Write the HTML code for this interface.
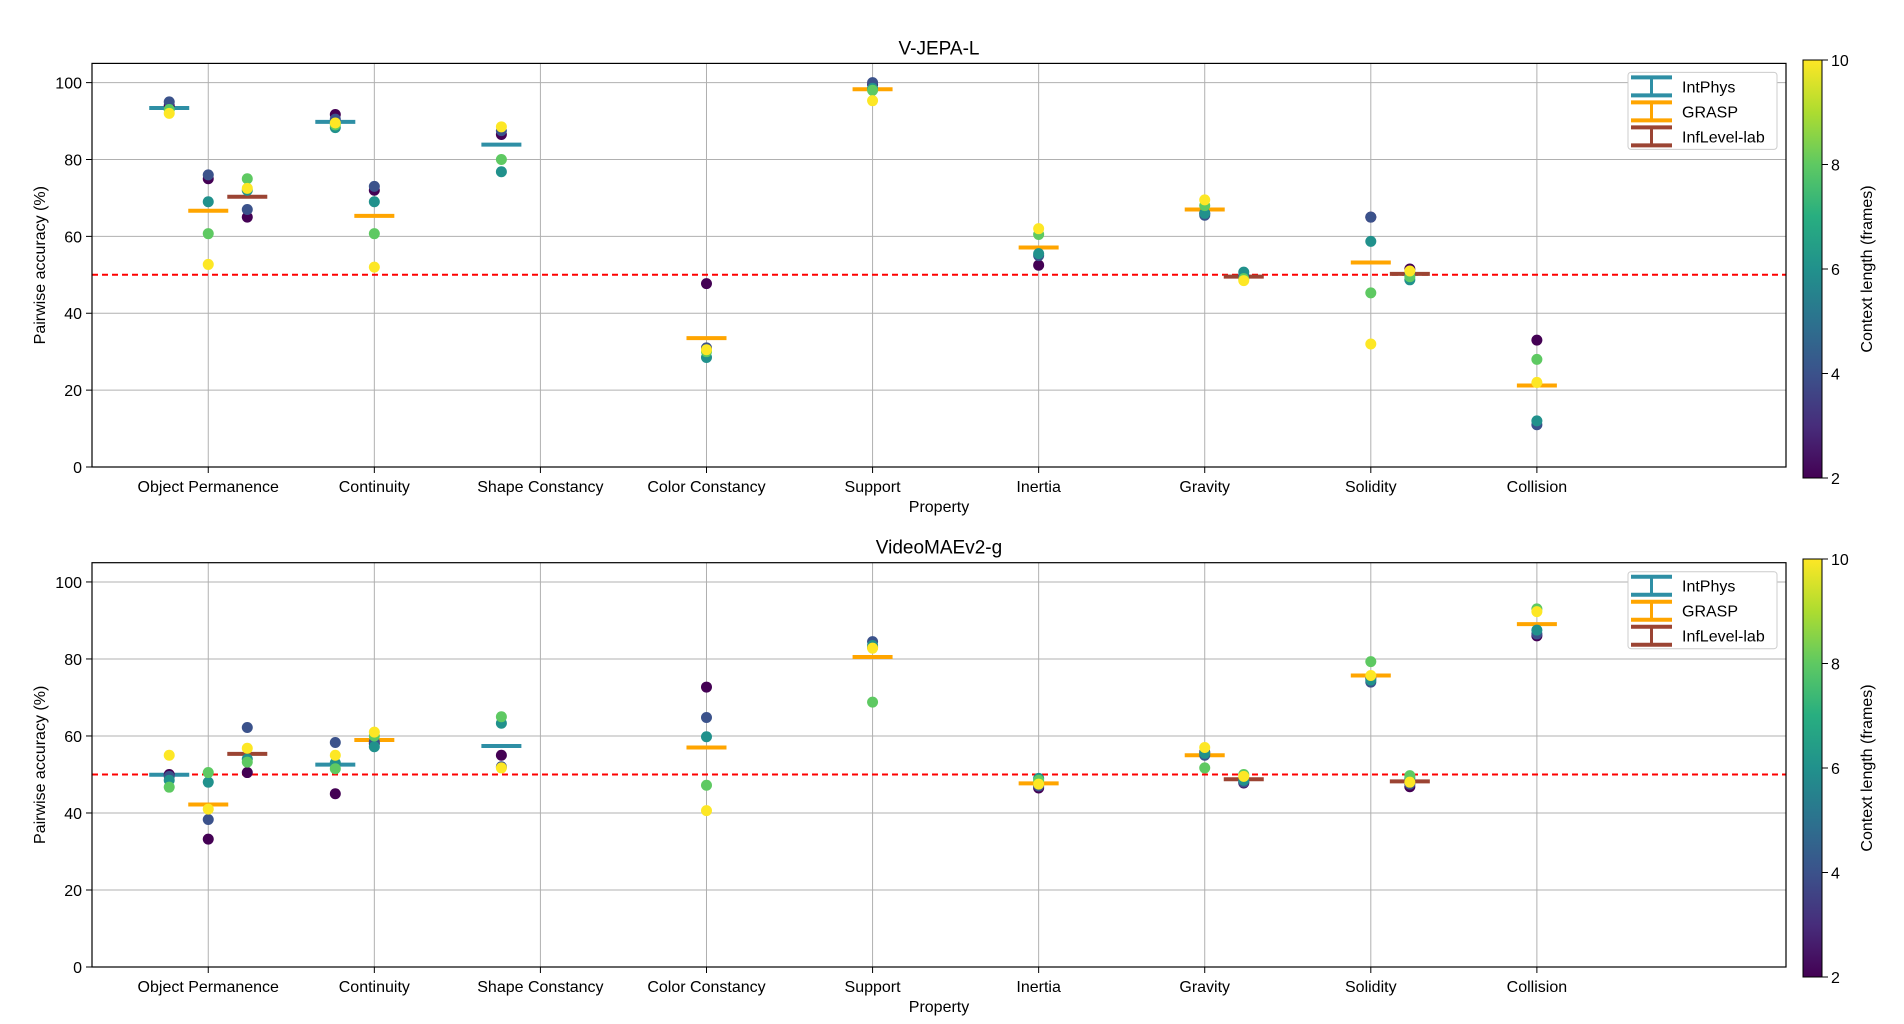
<!DOCTYPE html>
<html><head><meta charset="utf-8"><style>
html,body{margin:0;padding:0;background:#fff;}
svg{display:block;font-family:"Liberation Sans",Arial,sans-serif;}
</style></head><body>
<svg id="fig" width="1904" height="1024" viewBox="0 0 1904 1024" xmlns="http://www.w3.org/2000/svg">
<defs>
<linearGradient id="vir" x1="0" y1="1" x2="0" y2="0">
<stop offset="0" stop-color="#440154"/><stop offset="0.125" stop-color="#472d7b"/><stop offset="0.25" stop-color="#3b528b"/><stop offset="0.375" stop-color="#2c728e"/><stop offset="0.5" stop-color="#21918c"/><stop offset="0.625" stop-color="#28ae80"/><stop offset="0.75" stop-color="#5ec962"/><stop offset="0.875" stop-color="#addc30"/><stop offset="1" stop-color="#fde725"/>
</linearGradient>
</defs>
</svg>
<script>
const properties = ['Object Permanence','Continuity','Shape Constancy','Color Constancy','Support','Inertia','Gravity','Solidity','Collision'];
const datasets = ['IntPhys','GRASP','InfLevel-lab'];
const datasetColors = ['#2e8fa5','#ffa500','#9b4433'];
const datasetOffsets = [-0.235, 0, 0.235];
const contextLengths = [2,4,6,8,10];
const yTicks = [0,20,40,60,80,100];
const cbTicks = [2,4,6,8,10];
// entries: [propertyIndex, datasetIndex], values per context length 2,4,6,8,10
const vjepaKeys = [[0,0],[0,1],[0,2],[1,0],[1,1],[2,0],[3,1],[4,1],[5,1],[6,1],[6,2],[7,1],[7,2],[8,1]];
const vjepaValues = [
 [94,95,93,93,92],[75,76,69,60.7,52.7],[65,67,72,75,72.5],
 [91.7,90.5,88.3,89,89.5],[72,73,69,60.7,52],
 [86.5,87.5,76.8,80,88.5],[47.7,31,28.5,30,30.5],
 [99.5,100,98.5,98,95.3],[52.5,55,55.5,60.5,62],
 [66,65.5,66,68,69.5],[49.5,50,50.7,49,48.5],
 [65,65,58.7,45.3,32],[51.5,50.5,48.7,49.5,51],
 [33,11,12,28,22]
];
const videomaeKeys = [[0,0],[0,1],[0,2],[1,0],[1,1],[2,0],[3,1],[4,1],[5,1],[6,1],[6,2],[7,1],[7,2],[8,1]];
const videomaeValues = [
 [50,49.5,48.5,46.7,55],[33.2,38.3,48,50.5,41],[50.5,62.2,54,53.2,56.8],
 [45,58.3,53,51.5,55],[58,58.5,57.2,60,61],
 [55,52,63.3,65,51.7],[72.7,64.8,59.8,47.2,40.6],
 [83,84.5,83.5,68.8,82.8],[46.5,47,49,48.5,47.5],
 [55.8,55,55.5,51.7,57],[47.8,48,48.5,50,49.5],
 [75,74,74.5,79.3,75.7],[46.8,47.5,49,49.7,48],
 [86,86.5,87.5,93,92.3]
];
const chanceLevel = 50;

const NS='http://www.w3.org/2000/svg';
const svg=document.getElementById('fig');
function mk(tag,attrs,parent){const e=document.createElementNS(NS,tag);for(const k in attrs)e.setAttribute(k,attrs[k]);(parent||svg).appendChild(e);return e;}
function vir(v){const stops=['#440154','#472d7b','#3b528b','#2c728e','#21918c','#28ae80','#5ec962','#addc30','#fde725'];const t=(v-2)/8;return stops[Math.round(t*8)];}

function panel(title,keys,values,top,bottom,cbTop,cbBot,name){
 const L=92,R=1786;
 const g=mk('g',{});
 
 
 const xS=i=>L+(i+0.7)/(10.2)*(R-L);
 const yS=v=>bottom-v/105*(bottom-top);
 // grid
 yTicks.forEach(t=>{
  const l=mk('line',{x1:L,x2:R,y1:yS(t),y2:yS(t),stroke:'#b0b0b0','stroke-width':1},g);
  
  
  mk('line',{x1:L-6,x2:L,y1:yS(t),y2:yS(t),stroke:'#000'},g);
  const tx=mk('text',{x:L-10,y:yS(t)+6,'text-anchor':'end','font-size':16},g);tx.textContent=t;
  
  
 });
 properties.forEach((p,i)=>{
  const l=mk('line',{x1:xS(i),x2:xS(i),y1:top,y2:bottom,stroke:'#b0b0b0','stroke-width':1},g);
  
  
  mk('line',{x1:xS(i),x2:xS(i),y1:bottom,y2:bottom+6,stroke:'#000'},g);
  const tx=mk('text',{x:xS(i),y:bottom+25,'text-anchor':'middle','font-size':16},g);tx.textContent=p;
  
  
 });
 // chance line
 const cl=mk('line',{x1:L,x2:R,y1:yS(chanceLevel),y2:yS(chanceLevel),stroke:'#ff0000','stroke-width':2,'stroke-dasharray':'6,4'},g);
 
 
 // data
 keys.forEach((k,j)=>{
  const cx=xS(k[0]+datasetOffsets[k[1]]);
  const vals=values[j];
  const mean=vals.reduce((a,b)=>a+b,0)/vals.length;
  const bar=mk('line',{x1:cx-20,x2:cx+20,y1:yS(mean),y2:yS(mean),stroke:datasetColors[k[1]],'stroke-width':4},g);
  
  
  vals.forEach((v,c)=>{
   const pt=mk('circle',{cx:cx,cy:yS(v),r:5.5,fill:vir(contextLengths[c])},g);
   
   
  });
 });
 mk('rect',{x:L,y:top,width:R-L,height:bottom-top,fill:'none',stroke:'#000','stroke-width':1.2},g);
 const tt=mk('text',{x:(L+R)/2,y:top-9,'text-anchor':'middle','font-size':19},g);tt.textContent=title;
 
 
 const xl=mk('text',{x:(L+R)/2,y:bottom+45,'text-anchor':'middle','font-size':16},g);xl.textContent='Property';
 
 
 const ym=(top+bottom)/2;
 const yl=mk('text',{x:45,y:ym,'text-anchor':'middle','font-size':16,transform:`rotate(-90 45 ${ym})`},g);yl.textContent='Pairwise accuracy (%)';
 
 
 // legend
 const lg=mk('g',{},g);
 
 
 mk('rect',{x:1628,y:top+9,width:149,height:77,rx:3,fill:'#fff',stroke:'#ccc','stroke-width':1},lg);
 datasets.forEach((d,i)=>{
  const yy=top+23+i*25;const c=datasetColors[i];
  mk('line',{x1:1631,x2:1672,y1:yy-9,y2:yy-9,stroke:c,'stroke-width':4},lg);
  mk('line',{x1:1631,x2:1672,y1:yy+9,y2:yy+9,stroke:c,'stroke-width':4},lg);
  mk('line',{x1:1651.5,x2:1651.5,y1:yy-9,y2:yy+9,stroke:c,'stroke-width':3},lg);
  const t=mk('text',{x:1682,y:yy+6,'font-size':16},lg);t.textContent=d;
  
  
 });
 // colorbar
 const cb=mk('g',{},g);
 
 
 mk('rect',{x:1803,y:cbTop,width:19,height:cbBot-cbTop,fill:'url(#vir)',stroke:'#000','stroke-width':1},cb);
 cbTicks.forEach(t=>{
  const yy=cbBot-(t-2)/8*(cbBot-cbTop);
  mk('line',{x1:1822,x2:1828,y1:yy,y2:yy,stroke:'#000'},cb);
  const tx=mk('text',{x:1831,y:yy+6,'font-size':16},cb);tx.textContent=t;
 });
 const cm=(cbTop+cbBot)/2;
 const ct=mk('text',{x:1872,y:cm,'text-anchor':'middle','font-size':16,transform:`rotate(-90 1872 ${cm})`},cb);ct.textContent='Context length (frames)';
 
 
}
panel('V-JEPA-L',vjepaKeys,vjepaValues,63.4,467,60,478,'vjepa-panel');
panel('VideoMAEv2-g',videomaeKeys,videomaeValues,562.7,967,559,977,'videomae-panel');
</script>
</body></html>
